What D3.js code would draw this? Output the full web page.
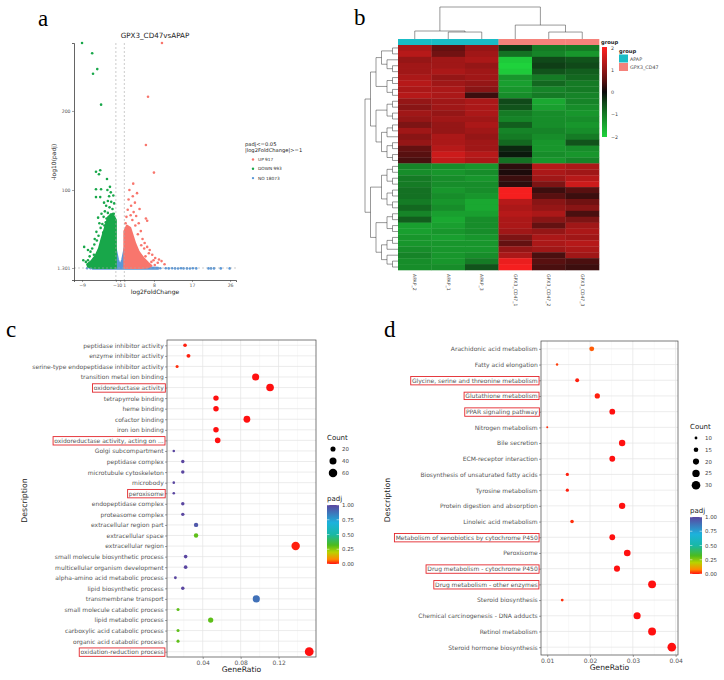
<!DOCTYPE html>
<html>
<head>
<meta charset="utf-8">
<script src="https://cdn.jsdelivr.net/npm/d3@7"></script>
<style>
body { margin: 0; background: #fff; }
svg { display: block; }
</style>
</head>
<body>
<svg id="fig" width="724" height="680"></svg>
<script>
// ---- panel a data (volcano) ----
var volcanoTitle = "GPX3_CD47vsAPAP";
var volcanoLegend = ["UP 917", "DOWN 993", "NO 18073"];
var xTicksA = [-9, -1, 0, 1, 8, 17, 26];
var yTicksA = [1.301, 100, 200];
// dense parts of the clouds, as outlines [log2FC, -log10 padj]
var downCloud = [[-1,1.3],[-1,62],[-1.8,70],[-2.8,66],[-3.6,52],[-4.4,38],[-5.0,26],[-5.8,17],[-6.8,10],[-7.8,6],[-7.6,3],[-6,1.3]];
var upCloud = [[1,1.3],[1,48],[1.6,55],[2.4,52],[3.0,42],[3.6,32],[4.4,22],[5.5,14],[6.6,8],[7.4,4],[6.5,2],[5,1.3]];
var noCloud = [[-1.05,26],[-0.5,12],[0,4],[0.5,12],[1.05,26],[1.05,3],[4,2.2],[9,1.6],[9,0.2],[-6.5,0.2],[-6.5,1.4],[-3,2.2],[-1.05,3]];
var downPts = [[-9,286],[-6.6,273],[-5.4,253],[-6.4,247],[-4.5,208],[-5.7,123],[-4.7,125],[-5,120],[-3.1,114],[-5.7,101],[-4.5,101],[-5.7,91],[-4.7,91],[-2.2,97],[-2.6,92],[-1.6,93],[-2.9,86],[-2.1,85],[-1.4,83],[-3.3,80],[-2.5,78],[-1.8,76],[-3.6,73],[-2.9,71],[-2.2,69],[-1.5,70],[-3.9,66],[-3.2,64],[-2.6,63],[-1.9,65],[-4.2,57],[-3.7,55],[-4.6,52],[-4.0,46],[-5.1,42],[-5.5,36],[-6.1,31],[-6.6,26],[-7.0,22],[-8.5,28],[-7.6,24],[-8.7,11],[-7.6,11],[-6.2,18],[-5.6,47],[-4.9,58],[-3.4,59],[-2.7,56],[-1.3,60],[-6.0,38],[-7.2,16],[-8.1,9],[-5.2,65],[-4.4,70],[-3.0,100],[-2.4,104],[-3.8,84]];
var upPts = [[9.9,286],[6.6,218],[6.1,157],[8.0,122],[3.1,108],[4.0,96],[3.5,84],[6.1,64],[6.4,61],[5.7,26],[9.2,12],[2.0,88],[2.6,80],[1.8,75],[3.2,72],[2.5,68],[1.5,66],[3.8,67],[2.9,62],[4.4,58],[3.6,55],[4.9,48],[4.2,44],[5.3,38],[5.8,33],[6.4,28],[7.0,24],[7.6,18],[8.3,14],[9.8,10],[10.5,6],[3.0,92],[2.2,100],[4.6,76],[1.3,58],[5.0,30],[6.8,20],[7.4,9],[8.9,8],[8.2,5],[7.9,11],[6.0,16]];
var noPts = [[9.5,1.0],[10.8,0.9],[11.5,0.8],[12.3,0.9],[13,0.8],[13.7,0.7],[14.4,0.9],[15,0.8],[15.8,0.8],[16.5,0.7],[17.2,0.9],[18,0.8],[20.9,0.8],[21.5,0.8],[22.2,0.8],[23.8,0.8],[25.9,0.8],[-7,0.9],[-7.8,1.0]];

// ---- panel b data (heatmap) ----
var sampleNames = ["APAP_2", "APAP_1", "APAP_3", "GPX3_CD47_1", "GPX3_CD47_2", "GPX3_CD47_3"];
var sampleGroups = ["APAP", "APAP", "APAP", "GPX3_CD47", "GPX3_CD47", "GPX3_CD47"];
var groupNames = ["APAP", "GPX3_CD47"];
var groupColors = ["#19bcc6", "#f5827b"];
var heatTicks = [2, 1, 0, -1, -2];
var heatRows = [
  [1.2,0.6,1.0,-0.4,-1.0,-1.0],[1.3,0.7,1.1,-0.9,-1.1,-1.3],[1.0,1.1,1.2,-1.9,-0.5,-0.6],[1.1,1.1,1.0,-2.0,-0.4,-0.5],
  [1.1,1.2,1.1,-1.9,-0.6,-0.7],[1.2,1.0,1.1,-1.3,-1.0,-0.8],[1.3,1.1,1.0,-1.4,-0.8,-1.0],[1.2,1.2,0.9,-1.3,-1.1,-1.0],
  [1.3,1.2,0.3,-1.2,-1.0,-1.1],[1.0,1.1,1.2,-0.5,-1.5,-1.1],[0.9,1.1,1.2,-0.6,-1.4,-1.2],[1.1,1.0,1.2,-1.0,-1.2,-1.3],
  [1.0,1.1,1.1,-1.1,-1.2,-1.2],[0.8,1.0,1.2,-0.7,-1.2,-1.3],[1.1,1.0,1.1,-1.1,-1.1,-1.2],[0.9,1.2,1.0,-1.0,-1.2,-1.0],
  [1.0,1.2,1.1,-0.8,-1.3,-0.6],[0.6,1.3,1.1,-0.2,-1.3,-1.2],[0.5,1.5,1.3,-0.1,-1.2,-1.3],[0.4,1.4,1.2,-0.9,-1.3,-1.1],
  [-1.1,-1.2,-1.3,0.2,1.3,1.2],[-1.2,-1.3,-1.2,0.1,1.2,1.1],[-1.0,-1.2,-1.3,0.3,1.1,1.3],[-1.0,-1.2,-1.2,0.2,0.8,1.5],
  [-0.9,-1.3,-1.2,1.9,0.3,0.5],[-0.9,-1.2,-1.3,1.9,0.5,0.3],[-1.0,-1.3,-1.5,1.3,0.9,0.7],[-0.8,-1.2,-1.5,1.2,1.0,0.9],
  [-1.1,-1.4,-1.4,1.3,1.2,0.4],[-0.7,-1.5,-1.2,1.2,0.9,0.8],[-1.4,-1.4,-1.2,1.2,0.6,1.1],[-1.4,-1.3,-1.2,1.1,1.0,1.2],
  [-1.3,-1.4,-1.3,0.8,1.2,1.1],[-1.3,-1.3,-1.3,0.6,1.2,1.3],[-1.2,-1.3,-1.3,1.0,1.1,1.2],[-1.1,-1.3,-1.2,1.2,0.4,1.1],
  [-1.2,-1.3,-1.0,1.8,0.5,0.4],[-1.2,-1.2,-0.6,1.9,0.4,0.3]
];
var rowTree = [
  [[[[0,1],[2,[3,4]]],[[5,6],[7,8]]],[[[9,10],[11,12]],[[[13,14],15],[[16,17],[18,19]]]]],
  [[[[20,21],[22,23]],[[24,25],[26,27]]],[[[28,29],[30,31]],[[[32,33],34],[35,[36,37]]]]]
];
var colTree = {h: 4.6, c: [{h: 1.15, c: [0, {h: 1, c: [1, 2]}]}, {h: 2, c: [3, {h: 1, c: [4, 5]}]}]};

// ---- panel c data (GO) ----
var goTerms = ["peptidase inhibitor activity","enzyme inhibitor activity","serine-type endopeptidase inhibitor activity","transition metal ion binding","oxidoreductase activity","tetrapyrrole binding","heme binding","cofactor binding","iron ion binding","oxidoreductase activity, acting on ...","Golgi subcompartment","peptidase complex","microtubule cytoskeleton","microbody","peroxisome","endopeptidase complex","proteasome complex","extracellular region part","extracellular space","extracellular region","small molecule biosynthetic process","multicellular organism development","alpha-amino acid metabolic process","lipid biosynthetic process","transmembrane transport","small molecule catabolic process","lipid metabolic process","carboxylic acid catabolic process","organic acid catabolic process","oxidation-reduction process"];
var goRatio = [0.0214,0.025,0.013,0.0958,0.111,0.054,0.054,0.0866,0.054,0.0558,0.0095,0.019,0.019,0.0095,0.0095,0.019,0.019,0.033,0.033,0.138,0.022,0.022,0.0112,0.019,0.0965,0.014,0.0484,0.014,0.014,0.1523];
var goCount = [9,11,6,41,48,23,23,37,23,24,4,8,8,4,4,8,8,14,14,59,9,9,5,8,41,6,21,6,6,65];
var goPadj = [0.01,0.01,0.02,0,0,0,0,0,0,0,1,1,1,1,1,1,1,0.95,0.3,0.01,1,1,1,1,0.88,0.3,0.3,0.3,0.3,0];
var goBoxed = ["oxidoreductase activity","oxidoreductase activity, acting on ...","peroxisome","oxidation-reduction process"];
var goTicks = [0.04, 0.08, 0.12];
var goCountLegend = [20, 40, 60];

// ---- panel d data (KEGG) ----
var keggTerms = ["Arachidonic acid metabolism","Fatty acid elongation","Glycine, serine and threonine metabolism","Glutathione metabolism","PPAR signaling pathway","Nitrogen metabolism","Bile secretion","ECM-receptor interaction","Biosynthesis of unsaturated fatty acids","Tyrosine metabolism","Protein digestion and absorption","Linoleic acid metabolism","Metabolism of xenobiotics by cytochrome P450","Peroxisome","Drug metabolism - cytochrome P450","Drug metabolism - other enzymes","Steroid biosynthesis","Chemical carcinogenesis - DNA adducts","Retinol metabolism","Steroid hormone biosynthesis"];
var keggRatio = [0.0204,0.0123,0.017,0.0217,0.0252,0.0100,0.0275,0.0252,0.0147,0.0147,0.0275,0.0158,0.0252,0.0287,0.0263,0.0345,0.0135,0.031,0.0345,0.0391];
var keggCount = [16,9,13,17,19,8,21,19,11,11,21,12,19,22,20,27,10,24,27,30];
var keggPadj = [0.05,0.03,0.01,0.01,0,0.02,0,0,0.01,0.01,0,0.02,0,0,0,0,0.02,0,0,0];
var keggBoxed = ["Glycine, serine and threonine metabolism","Glutathione metabolism","PPAR signaling pathway","Metabolism of xenobiotics by cytochrome P450","Drug metabolism - cytochrome P450","Drug metabolism - other enzymes"];
var keggTicks = [0.01, 0.02, 0.03, 0.04];
var keggCountLegend = [10, 15, 20, 25, 30];

var padjStops = [0, 0.08, 0.2, 0.32, 0.5, 0.7, 1];
var padjColors = ["#ff1010", "#ff8a00", "#b8d300", "#4cbb1e", "#19b8a6", "#1cb2dc", "#5a46a0"];
var padjTicks = [1, 0.75, 0.5, 0.25, 0];

var FONT = "DejaVu Sans, sans-serif";
var svg = d3.select("#fig");
var defs = svg.append("defs");

function letter(t, x, y) {
  svg.append("text").attr("x", x).attr("y", y).text(t)
    .attr("font-family", "Liberation Serif, serif").attr("font-size", 23);
}
letter("a", 38, 26); letter("b", 354, 25); letter("c", 6, 337); letter("d", 384, 337);

// ================= panel a =================
(function () {
  var g = svg.append("g");
  var cols = {up: "#f8766d", down: "#18a74a", no: "#5b98d8"};
  var x = d3.scaleLinear().domain([-10.9, 27.4]).range([74, 236]);
  var y = d3.scaleLinear().domain([-13.9, 286]).range([280, 43]);
  var area = d3.line().x(function (d) { return x(d[0]); }).y(function (d) { return y(d[1]); }).curve(d3.curveLinearClosed);

  g.append("path").attr("d", area(noCloud)).attr("fill", cols.no).attr("stroke", cols.no).attr("stroke-width", 2).attr("stroke-linejoin", "round");
  g.selectAll(".no").data(noPts).join("circle").attr("cx", d => x(d[0])).attr("cy", d => y(d[1])).attr("r", 1.3).attr("fill", cols.no);
  g.append("path").attr("d", area(downCloud)).attr("fill", cols.down).attr("stroke", cols.down).attr("stroke-width", 2).attr("stroke-linejoin", "round");
  g.append("path").attr("d", area(upCloud)).attr("fill", cols.up).attr("stroke", cols.up).attr("stroke-width", 2).attr("stroke-linejoin", "round");
  g.selectAll(".dn").data(downPts).join("circle").attr("cx", d => x(d[0])).attr("cy", d => y(d[1])).attr("r", 1.3).attr("fill", cols.down);
  g.selectAll(".upp").data(upPts).join("circle").attr("cx", d => x(d[0])).attr("cy", d => y(d[1])).attr("r", 1.3).attr("fill", cols.up);

  // threshold lines
  [-1, 1].forEach(function (v) {
    g.append("line").attr("x1", x(v)).attr("x2", x(v)).attr("y1", 43).attr("y2", 280)
      .attr("stroke", "#aaa").attr("stroke-width", 0.6).attr("stroke-dasharray", "2,2");
  });
  g.append("line").attr("x1", 74).attr("x2", 236).attr("y1", y(1.301)).attr("y2", y(1.301))
    .attr("stroke", "#aaa").attr("stroke-width", 0.6).attr("stroke-dasharray", "2,2");

  var xa = g.append("g").attr("transform", "translate(0,280)")
    .call(d3.axisBottom(x).tickValues(xTicksA).tickSize(2).tickPadding(1.5).tickFormat(d3.format("d")));
  var ya = g.append("g").attr("transform", "translate(74,0)")
    .call(d3.axisLeft(y).tickValues(yTicksA).tickSize(2).tickPadding(1.5).tickFormat(function (d) { return d === 1.301 ? "1.301" : d; }));
  [xa, ya].forEach(function (a) {
    a.attr("font-family", FONT).attr("font-size", 4.6);
    a.select(".domain").attr("stroke", "#222").attr("stroke-width", 0.7);
    a.selectAll(".tick line").attr("stroke", "#444").attr("stroke-width", 0.5);
    a.selectAll(".tick text").attr("fill", "#555");
  });

  g.append("text").attr("x", 155).attr("y", 38).attr("text-anchor", "middle").text(volcanoTitle)
    .attr("font-family", FONT).attr("font-size", 7.2).attr("fill", "#222");
  g.append("text").attr("x", 155).attr("y", 294).attr("text-anchor", "middle").text("log2FoldChange")
    .attr("font-family", FONT).attr("font-size", 6).attr("fill", "#222");
  g.append("text").attr("transform", "translate(56,162) rotate(-90)").attr("text-anchor", "middle").text("-log10(padj)")
    .attr("font-family", FONT).attr("font-size", 6).attr("fill", "#222");

  // legend
  var lg = g.append("g").attr("font-family", FONT);
  lg.append("text").attr("x", 245).attr("y", 145.5).text("padj<=0.05").attr("font-size", 5.2).attr("fill", "#222");
  lg.append("text").attr("x", 245).attr("y", 151.5).text("|log2FoldChange|>=1").attr("font-size", 5.2).attr("fill", "#222");
  var lc = [cols.up, cols.down, cols.no];
  volcanoLegend.forEach(function (t, i) {
    var yy = 159.5 + i * 9.3;
    lg.append("circle").attr("cx", 253).attr("cy", yy).attr("r", 1.2).attr("fill", lc[i]);
    lg.append("text").attr("x", 258).attr("y", yy + 1.6).text(t).attr("font-size", 4.3).attr("fill", "#333");
  });
})();

// ================= panel b =================
(function () {
  var g = svg.append("g");
  var hx0 = 398, hx1 = 599, hy0 = 45, hy1 = 270;
  var xb = d3.scaleBand().domain(d3.range(sampleNames.length)).range([hx0, hx1]);
  var yb = d3.scaleBand().domain(d3.range(heatRows.length)).range([hy0, hy1]);
  var heatColor = d3.scaleLinear().domain([-2, 0, 2]).range(["#1fd23c", "#0a0a0a", "#ff2020"])
    .interpolate(d3.interpolateRgb.gamma(1.25)).clamp(true);

  heatRows.forEach(function (row, i) {
    g.selectAll(null).data(row).join("rect")
      .attr("x", (d, j) => xb(j)).attr("y", yb(i))
      .attr("width", xb.bandwidth() + 0.3).attr("height", yb.bandwidth() + 0.3)
      .attr("fill", d => heatColor(d));
  });

  // annotation bar
  g.selectAll(".ann").data(sampleGroups).join("rect")
    .attr("x", (d, j) => xb(j)).attr("y", 39).attr("width", xb.bandwidth() + 0.3).attr("height", 6)
    .attr("fill", d => groupColors[groupNames.indexOf(d)]);
  g.append("text").attr("x", 601).attr("y", 44).text("group").attr("font-family", FONT)
    .attr("font-size", 5.2).attr("font-weight", "bold").attr("fill", "#222");

  // column dendrogram
  var yc = d3.scaleLinear().domain([0, colTree.h]).range([39, 7]);
  var croot = d3.hierarchy(colTree, d => (typeof d === "object" ? d.c : null));
  croot.eachAfter(function (n) {
    if (!n.children) { n.px = xb(n.data) + xb.bandwidth() / 2; n.ph = 0; }
    else { n.px = d3.mean(n.children, c => c.px); n.ph = n.data.h; }
  });
  croot.each(function (n) {
    if (!n.children) return;
    var a = n.children[0], b = n.children[n.children.length - 1];
    g.append("path").attr("fill", "none").attr("stroke", "#333").attr("stroke-width", 0.5)
      .attr("d", "M" + a.px + "," + yc(a.ph) + "V" + yc(n.ph) + "H" + b.px + "V" + yc(b.ph));
  });

  // row dendrogram
  var rroot = d3.hierarchy(rowTree, d => (Array.isArray(d) ? d : null));
  var xr = d3.scaleLinear().domain([0, rroot.height]).range([hx0, 365]);
  rroot.eachAfter(function (n) {
    if (!n.children) n.py = yb(n.data) + yb.bandwidth() / 2;
    else n.py = d3.mean(n.children, c => c.py);
  });
  rroot.each(function (n) {
    if (!n.children) return;
    var a = n.children[0], b = n.children[n.children.length - 1];
    g.append("path").attr("fill", "none").attr("stroke", "#333").attr("stroke-width", 0.5)
      .attr("d", "M" + xr(a.height) + "," + a.py + "H" + xr(n.height) + "V" + b.py + "H" + xr(b.height));
  });

  // column labels
  g.selectAll(".cl").data(sampleNames).join("text")
    .attr("transform", (d, j) => "translate(" + (xb(j) + xb.bandwidth() / 2 - 1.6) + ",274) rotate(90)")
    .text(d => d).attr("font-family", FONT).attr("font-size", 4.6).attr("fill", "#444");

  // colour key
  var grad = defs.append("linearGradient").attr("id", "heatGrad").attr("x1", 0).attr("x2", 0).attr("y1", 1).attr("y2", 0);
  [-2, -1.5, -1, -0.5, 0, 0.5, 1, 1.5, 2].forEach(function (v) {
    grad.append("stop").attr("offset", (v + 2) / 4).attr("stop-color", heatColor(v));
  });
  var ky = d3.scaleLinear().domain([-2, 2]).range([137, 48]);
  g.append("rect").attr("x", 602).attr("y", 47).attr("width", 5).attr("height", 90).attr("fill", "url(#heatGrad)");
  g.selectAll(".kt").data(heatTicks).join("text")
    .attr("x", 611).attr("y", d => ky(d) + 1.7).text(d => (d < 0 ? "\u2212" + (-d) : d))
    .attr("font-family", FONT).attr("font-size", 4.8).attr("fill", "#444");

  // group legend
  g.append("text").attr("x", 619).attr("y", 52.5).text("group").attr("font-family", FONT)
    .attr("font-size", 5.2).attr("font-weight", "bold").attr("fill", "#222");
  groupNames.forEach(function (nm, i) {
    g.append("rect").attr("x", 619).attr("y", 54.5 + i * 8.5).attr("width", 9).attr("height", 8).attr("fill", groupColors[i]);
    g.append("text").attr("x", 630).attr("y", 60.5 + i * 8.5).text(nm).attr("font-family", FONT)
      .attr("font-size", 4.8).attr("fill", "#444");
  });
})();

// ================= panels c and d =================
var padjColor = d3.scaleLinear().domain(padjStops).range(padjColors);
var pg = defs.append("linearGradient").attr("id", "padjGrad").attr("x1", 0).attr("x2", 0).attr("y1", 1).attr("y2", 0);
padjStops.forEach(function (s, i) { pg.append("stop").attr("offset", s).attr("stop-color", padjColors[i]); });

function dotPanel(cfg) {
  var g = svg.append("g");
  var ext = d3.extent(cfg.ratio), pad = (ext[1] - ext[0]) * 0.05;
  var x = d3.scaleLinear().domain([ext[0] - pad, ext[1] + pad]).range([cfg.left, cfg.right]);
  var y = d3.scalePoint().domain(cfg.terms).range([cfg.top, cfg.bottom]).padding(0.5);
  var cext = d3.extent(cfg.count);
  var rs = d3.scaleLinear().domain([Math.sqrt(cext[0]), Math.sqrt(cext[1])]).range(cfg.rRange);
  var r = function (c) { return rs(Math.sqrt(c)); };

  // grid
  var minor = [];
  var step = cfg.ticks[1] - cfg.ticks[0];
  for (var v = cfg.ticks[0] - step / 2; v < x.domain()[1]; v += step) if (v > x.domain()[0]) minor.push(v);
  g.selectAll(".mn").data(minor).join("line").attr("x1", d => x(d)).attr("x2", d => x(d))
    .attr("y1", cfg.top).attr("y2", cfg.bottom).attr("stroke", "#f2f2f2").attr("stroke-width", 0.5);
  g.selectAll(".mx").data(cfg.ticks).join("line").attr("x1", d => x(d)).attr("x2", d => x(d))
    .attr("y1", cfg.top).attr("y2", cfg.bottom).attr("stroke", "#e4e4e4").attr("stroke-width", 0.7);
  g.selectAll(".my").data(cfg.terms).join("line").attr("y1", d => y(d)).attr("y2", d => y(d))
    .attr("x1", cfg.left).attr("x2", cfg.right).attr("stroke", "#e4e4e4").attr("stroke-width", 0.7);

  // dots
  g.selectAll(".pt").data(cfg.terms).join("circle")
    .attr("cx", (d, i) => x(cfg.ratio[i])).attr("cy", d => y(d))
    .attr("r", (d, i) => r(cfg.count[i])).attr("fill", (d, i) => padjColor(cfg.padj[i]));

  g.append("rect").attr("x", cfg.left).attr("y", cfg.top).attr("width", cfg.right - cfg.left)
    .attr("height", cfg.bottom - cfg.top).attr("fill", "none").attr("stroke", "#444").attr("stroke-width", 0.7);

  // axes
  var ya = g.append("g").attr("transform", "translate(" + cfg.left + ",0)")
    .call(d3.axisLeft(y).tickSize(2).tickPadding(1.3));
  var xa = g.append("g").attr("transform", "translate(0," + cfg.bottom + ")")
    .call(d3.axisBottom(x).tickValues(cfg.ticks).tickSize(2).tickPadding(1.5).tickFormat(d => +d.toFixed(2)));
  [ya, xa].forEach(function (a) {
    a.attr("font-family", FONT).attr("font-size", cfg.fs);
    a.select(".domain").remove();
    a.selectAll(".tick line").attr("stroke", "#444").attr("stroke-width", 0.5);
    a.selectAll(".tick text").attr("fill", "#555");
  });
  ya.selectAll(".tick").filter(d => cfg.boxed.indexOf(d) >= 0).each(function () {
    var b = d3.select(this).select("text").node().getBBox();
    d3.select(this).append("rect").attr("x", b.x - 1.2).attr("y", b.y - 0.2)
      .attr("width", b.width + 2.4).attr("height", b.height + 0.4)
      .attr("fill", "none").attr("stroke", "#e3262c").attr("stroke-width", 0.9);
  });

  g.append("text").attr("x", (cfg.left + cfg.right) / 2).attr("y", cfg.bottom + 15).attr("text-anchor", "middle")
    .text("GeneRatio").attr("font-family", FONT).attr("font-size", 7.6).attr("fill", "#222");
  g.append("text").attr("transform", "translate(" + cfg.descX + "," + ((cfg.top + cfg.bottom) / 2 + 2) + ") rotate(-90)")
    .attr("text-anchor", "middle").text("Description").attr("font-family", FONT).attr("font-size", 7.8).attr("fill", "#222");

  // size legend
  var L = cfg.legend;
  g.append("text").attr("x", L.x).attr("y", L.countY).text("Count").attr("font-family", FONT).attr("font-size", 7).attr("fill", "#222");
  cfg.countLegend.forEach(function (c, i) {
    var yy = L.countY + 9 + i * L.countStep;
    g.append("circle").attr("cx", L.x + 6).attr("cy", yy).attr("r", r(c)).attr("fill", "#000");
    g.append("text").attr("x", L.x + 15).attr("y", yy + 2).text(c).attr("font-family", FONT).attr("font-size", 5.4).attr("fill", "#444");
  });
  // colour legend
  g.append("text").attr("x", L.x).attr("y", L.padjY).text("padj").attr("font-family", FONT).attr("font-size", 7).attr("fill", "#222");
  var by = d3.scaleLinear().domain([0, 1]).range([L.padjY + L.barH + 4, L.padjY + 4]);
  g.append("rect").attr("x", L.x).attr("y", L.padjY + 4).attr("width", 12).attr("height", L.barH).attr("fill", "url(#padjGrad)");
  padjTicks.forEach(function (t) {
    g.append("line").attr("x1", L.x).attr("x2", L.x + 2.4).attr("y1", by(t)).attr("y2", by(t)).attr("stroke", "#fff").attr("stroke-width", 0.5);
    g.append("line").attr("x1", L.x + 9.6).attr("x2", L.x + 12).attr("y1", by(t)).attr("y2", by(t)).attr("stroke", "#fff").attr("stroke-width", 0.5);
    g.append("text").attr("x", L.x + 15).attr("y", by(t) + 2).text(t.toFixed(2)).attr("font-family", FONT).attr("font-size", 5.4).attr("fill", "#444");
  });
}

dotPanel({
  terms: goTerms, ratio: goRatio, count: goCount, padj: goPadj, boxed: goBoxed, ticks: goTicks,
  countLegend: goCountLegend, rRange: [1.3, 4.4], fs: 6.0,
  left: 167, right: 316, top: 340, bottom: 657, descX: 27,
  legend: {x: 327, countY: 440, countStep: 12, padjY: 501, barH: 59}
});
dotPanel({
  terms: keggTerms, ratio: keggRatio, count: keggCount, padj: keggPadj, boxed: keggBoxed, ticks: keggTicks,
  countLegend: keggCountLegend, rRange: [1.0, 4.3], fs: 6.0,
  left: 541, right: 678, top: 341, bottom: 655, descX: 390,
  legend: {x: 690, countY: 429, countStep: 11.8, padjY: 513, barH: 57}
});
</script>
</body>
</html>
